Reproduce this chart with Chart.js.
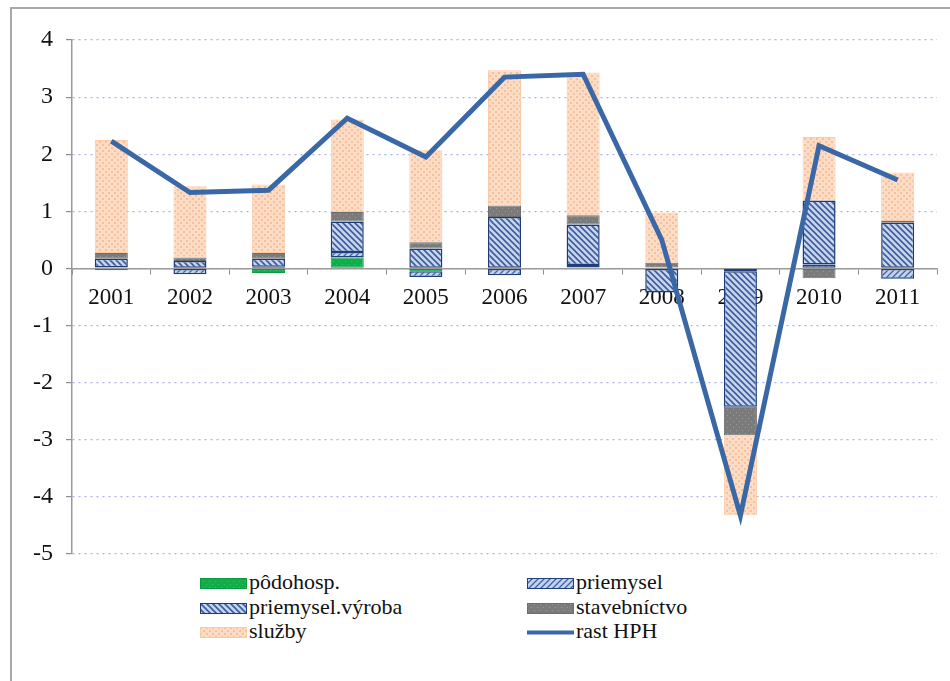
<!DOCTYPE html>
<html>
<head>
<meta charset="utf-8">
<script src="https://cdn.jsdelivr.net/npm/chart.js@4"></script>
<style>
  body { margin: 0; background: #fff; width: 950px; height: 681px; overflow: hidden; position: relative; font-family: "Times New Roman", Tinos, "Liberation Serif", "DejaVu Serif", serif; }
  #frame { position: absolute; left: 10px; top: 7px; width: 945px; height: 680px; border-left: 2px solid #a8a8a8; border-top: 2px solid #a8a8a8; }
  #wrap { position: absolute; left: 0; top: 0; width: 950px; height: 565px; }
  .leg { position: absolute; font-size: 22px; color: #111; line-height: 24px; white-space: nowrap; }
  .leg canvas { position: absolute; left: 0; top: 7px; }
  .leg span { position: absolute; left: 49px; top: -1px; }
</style>
</head>
<body>
<div id="frame"></div>
<div id="wrap"><canvas id="c"></canvas></div>
<div id="legend"></div>
<script>
var years = ["2001", "2002", "2003", "2004", "2005", "2006", "2007", "2008", "2009", "2010", "2011"];
var podohosp   = [-0.03, 0.00, -0.08, 0.19, -0.05, 0.00, 0.02, 0.02, 0.00, 0.00, 0.00];
var priemysel  = [0.02, -0.10, 0.03, 0.10, -0.10, -0.12, 0.04, 0.00, -0.05, 0.07, -0.18];
var vyroba     = [0.15, 0.13, 0.14, 0.53, 0.35, 0.90, 0.71, -0.42, -2.37, 1.12, 0.80];
var stavebnictvo = [0.10, 0.06, 0.10, 0.17, 0.11, 0.20, 0.16, 0.08, -0.50, -0.17, 0.03];
var sluzby     = [1.98, 1.25, 1.20, 1.62, 1.61, 2.37, 2.50, 0.88, -1.40, 1.11, 0.85];
var rastHPH    = [2.23, 1.33, 1.37, 2.63, 1.95, 3.35, 3.40, 0.50, -4.33, 2.15, 1.55];

// small tiles for the hatched fills
function tile(kind) {
  var t = document.createElement("canvas");
  t.width = 6; t.height = 6;
  var g = t.getContext("2d");
  if (kind === "green") {
    g.fillStyle = "#0fae4b"; g.fillRect(0, 0, 6, 6);
    g.fillStyle = "#35c266"; g.fillRect(0, 0, 1, 1); g.fillRect(3, 3, 1, 1);
  } else if (kind === "prie") {
    g.fillStyle = "#c3d2ee"; g.fillRect(0, 0, 6, 6);
    g.strokeStyle = "#3f64a6"; g.lineWidth = 1.3;
    g.beginPath(); g.moveTo(-1, 7); g.lineTo(7, -1); g.moveTo(-4, 4); g.lineTo(4, -4); g.moveTo(2, 10); g.lineTo(10, 2); g.stroke();
  } else if (kind === "vyr") {
    g.fillStyle = "#c8d5ee"; g.fillRect(0, 0, 6, 6);
    g.strokeStyle = "#3a5c9e"; g.lineWidth = 1.6;
    g.beginPath(); g.moveTo(-1, -1); g.lineTo(7, 7); g.moveTo(-4, 2); g.lineTo(4, 10); g.moveTo(2, -4); g.lineTo(10, 4); g.stroke();
  } else if (kind === "stav") {
    g.fillStyle = "#7b7b7b"; g.fillRect(0, 0, 6, 6);
    g.fillStyle = "#9a9a9a"; g.fillRect(1, 1, 1, 1); g.fillRect(4, 4, 1, 1);
  } else {
    g.fillStyle = "#fddcc6"; g.fillRect(0, 0, 6, 6);
    g.fillStyle = "#f8c09a"; g.fillRect(0, 0, 2, 2); g.fillRect(3, 3, 2, 2);
  }
  return t;
}

var ctx = document.getElementById("c").getContext("2d");
function pat(kind) { return ctx.createPattern(tile(kind), "repeat"); }

var serif = "'Times New Roman', Tinos, 'Liberation Serif', 'DejaVu Serif', serif";

new Chart(ctx, {
  data: {
    labels: years,
    datasets: [
      { type: "line", label: "rast HPH", data: rastHPH, borderColor: "#3a68a6", borderWidth: 5,
        pointRadius: 0, tension: 0, order: 0, stack: "hph" },
      { type: "bar", label: "pôdohosp.", data: podohosp, backgroundColor: pat("green"),
        borderColor: "#0c9a40", borderWidth: 1, borderSkipped: false, order: 1, stack: "s" },
      { type: "bar", label: "priemysel", data: priemysel, backgroundColor: pat("prie"),
        borderColor: "#203f7c", borderWidth: 1.5, borderSkipped: false, order: 1, stack: "s" },
      { type: "bar", label: "priemysel.výroba", data: vyroba, backgroundColor: pat("vyr"),
        borderColor: "#1e3b78", borderWidth: 1.5, borderSkipped: false, order: 1, stack: "s" },
      { type: "bar", label: "stavebníctvo", data: stavebnictvo, backgroundColor: pat("stav"),
        borderColor: "#6d6d6d", borderWidth: 1, borderSkipped: false, order: 1, stack: "s" },
      { type: "bar", label: "služby", data: sluzby, backgroundColor: pat("sl"),
        borderColor: "#fbcba8", borderWidth: 1, borderSkipped: false, order: 1, stack: "s" }
    ]
  },
  options: {
    responsive: true,
    maintainAspectRatio: false,
    animation: false,
    layout: { padding: { left: 0, right: 13, top: 40, bottom: 11 } },
    datasets: { bar: { barPercentage: 0.42, categoryPercentage: 1 } },
    plugins: { legend: { display: false }, tooltip: { enabled: false } },
    scales: {
      x: {
        stacked: true,
        position: { y: 0 },
        offset: true,
        grid: { drawOnChartArea: false, offset: true, tickLength: 5, tickColor: "#8c8c8c" },
        border: { color: "#9a9a9a", width: 1.5 },
        ticks: { color: "#111", font: { family: serif, size: 23 }, padding: 11, maxRotation: 0 }
      },
      y: {
        stacked: true,
        min: -5, max: 4,
        ticks: { stepSize: 1, color: "#111", font: { family: serif, size: 24 }, padding: 13 },
        grid: { color: "#a9b2f2", lineWidth: 1.2, tickLength: 6, tickColor: "#8c8c8c" },
        border: { color: "#9a9a9a", width: 1.5, dash: [2, 4] },
        afterFit: function (s) { s.width = 72; s.paddingTop = 0; s.paddingBottom = 0; }
      }
    }
  }
});

// legend laid out as two columns like the original
var legendItems = [
  { label: "pôdohosp.", kind: "green", x: 200, y: 571 },
  { label: "priemysel", kind: "prie", x: 527, y: 571 },
  { label: "priemysel.výroba", kind: "vyr", x: 200, y: 596 },
  { label: "stavebníctvo", kind: "stav", x: 527, y: 596 },
  { label: "služby", kind: "sl", x: 200, y: 620 },
  { label: "rast HPH", kind: "line", x: 527, y: 620 }
];
var borders = { green: "#0c9a40", prie: "#203f7c", vyr: "#1e3b78", stav: "#6d6d6d", sl: "#fbcba8" };
var legend = document.getElementById("legend");
legendItems.forEach(function (it) {
  var d = document.createElement("div");
  d.className = "leg";
  d.style.left = it.x + "px";
  d.style.top = it.y + "px";
  var sw = document.createElement("canvas");
  sw.width = 47; sw.height = 11;
  var g = sw.getContext("2d");
  if (it.kind === "line") {
    g.fillStyle = "#3a68a6"; g.fillRect(0, 3.5, 47, 4);
  } else {
    g.fillStyle = g.createPattern(tile(it.kind), "repeat");
    g.fillRect(0, 0, 47, 11);
    g.strokeStyle = borders[it.kind]; g.lineWidth = 1;
    g.strokeRect(0.5, 0.5, 46, 10);
  }
  var s = document.createElement("span");
  s.textContent = it.label;
  d.appendChild(sw);
  d.appendChild(s);
  legend.appendChild(d);
});
</script>
</body>
</html>
